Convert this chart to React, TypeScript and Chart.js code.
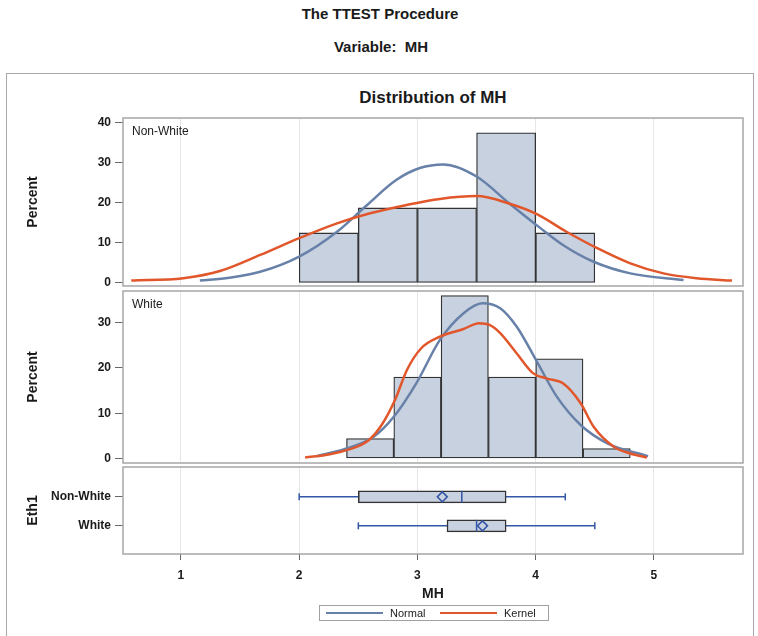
import React, { useEffect, useRef } from 'react';
import { Chart, registerables } from 'chart.js';

Chart.register(...registerables);

// ---------- data ----------
const CATEGORIES = ['Non-White', 'White'];
const X_TICKS = [1, 2, 3, 4, 5];
const X_MIN = 0.51;
const X_MAX = 5.753;
const NW_Y_TICKS = [0, 10, 20, 30, 40];
const W_Y_TICKS = [0, 10, 20, 30];

// histogram bins (mid-points) and percents
const NW_BIN_MID = [2.25, 2.75, 3.25, 3.75, 4.25];
const NW_PERCENT = [12.5, 18.75, 18.75, 37.5, 12.5];
const W_BIN_MID = [2.6, 3.0, 3.4, 3.8, 4.2, 4.6];
const W_PERCENT = [4.4, 18.0, 36.0, 18.0, 22.0, 2.2];

// density curves
const NW_NORMAL_X = [1.16, 1.41, 1.67, 2.0, 2.32, 2.56, 2.82, 3.02, 3.22, 3.5, 3.78, 4.04, 4.23, 4.49, 4.8, 5.25];
const NW_NORMAL_Y = [0.6, 1.3, 2.8, 6.6, 12.8, 19.1, 25.7, 28.7, 29.6, 26.6, 19.8, 13.7, 9.5, 5.3, 2.4, 0.75];
const NW_KERNEL_X = [0.58, 1.02, 1.33, 1.67, 2.0, 2.32, 2.6, 2.91, 3.19, 3.5, 3.78, 4.01, 4.26, 4.52, 4.8, 5.08, 5.36, 5.66];
const NW_KERNEL_Y = [0.6, 1.2, 3.0, 7.0, 11.2, 14.9, 17.4, 19.5, 21.0, 21.7, 19.8, 17.2, 12.8, 8.7, 4.9, 2.4, 1.2, 0.6];
const W_NORMAL_X = [2.15, 2.4, 2.63, 2.8, 2.99, 3.19, 3.39, 3.55, 3.7, 3.84, 4.01, 4.18, 4.38, 4.61, 4.95];
const W_NORMAL_Y = [0.5, 2.2, 4.8, 9.2, 16.6, 26.2, 32.1, 34.3, 33.2, 29.1, 21.4, 13.6, 7.4, 3.3, 0.5];
const W_KERNEL_X = [2.05, 2.26, 2.49, 2.6, 2.7, 2.81, 2.91, 3.03, 3.19, 3.39, 3.52, 3.61, 3.7, 3.84, 3.98, 4.09, 4.23, 4.38, 4.49, 4.66, 4.8, 4.94];
const W_KERNEL_Y = [0.2, 0.95, 2.6, 4.3, 7.5, 12.9, 19.5, 24.3, 26.9, 28.6, 29.9, 29.5, 27.7, 23.2, 18.8, 17.7, 16.6, 12.2, 7.0, 2.6, 1.1, 0.2];

// box plot statistics per category
const BOX_MIN = [2.0, 2.5];
const BOX_Q1 = [2.5, 3.25];
const BOX_MEDIAN = [3.375, 3.5];
const BOX_Q3 = [3.75, 3.75];
const BOX_MAX = [4.25, 4.5];
const BOX_MEAN = [3.21, 3.55];

// ---------- styles ----------
const FONT = '"Liberation Sans", Arial, Helvetica, sans-serif';
const HIST_FILL = '#c8d1e0';
const EDGE = '#333333';
const NORMAL_COLOR = '#6881a9';
const KERNEL_COLOR = '#e1572b';
const BOX_BLUE = '#3456a6';
const FRAME = '#a6a6a6';
const GRID = '#e6e6e6';
const TEXT = '#1a1a1a';

Chart.defaults.font.family = FONT;
Chart.defaults.color = TEXT;

const panelPlugin = {
  id: 'panelFrame',
  afterDraw(chart: any, _args: any, opts: any) {
    const { ctx, chartArea: a } = chart;
    ctx.save();
    ctx.strokeStyle = FRAME;
    ctx.lineWidth = 1.5;
    ctx.strokeRect(a.left, a.top, a.right - a.left, a.bottom - a.top);
    if (opts && opts.label) {
      ctx.fillStyle = TEXT;
      ctx.font = `12px ${FONT}`;
      ctx.textBaseline = 'middle';
      ctx.textAlign = 'left';
      ctx.fillText(opts.label, a.left + 9, a.top + 13.5);
    }
    ctx.restore();
  },
};

const pts = (xs: number[], ys: number[]) => xs.map((x, i) => ({ x, y: ys[i] }));

function xAxis(bottom: boolean) {
  return {
    type: 'linear',
    min: X_MIN,
    max: X_MAX,
    offset: false,
    afterBuildTicks: (s: any) => {
      s.ticks = X_TICKS.map((v) => ({ value: v }));
    },
    afterFit: (s: any) => {
      s.height = bottom ? 50 : 0;
      s.paddingLeft = 0;
      s.paddingRight = 0;
    },
    grid: {
      color: GRID,
      lineWidth: 1,
      offset: false,
      drawTicks: bottom,
      tickLength: 6,
      tickColor: '#666666',
    },
    border: { display: false },
    ticks: {
      display: bottom,
      font: { size: 12, weight: 'bold' },
      color: TEXT,
      padding: 8,
    },
    title: {
      display: bottom,
      text: 'MH',
      font: { size: 14, weight: 'bold' },
      color: TEXT,
      padding: { top: 0, bottom: 1 },
    },
  };
}

function yAxis(min: number, max: number, ticks: number[], title: string, reverse = false, cb?: (v: any) => string) {
  return {
    type: 'linear',
    min,
    max,
    reverse,
    offset: false,
    afterBuildTicks: (s: any) => {
      s.ticks = ticks.map((v) => ({ value: v }));
    },
    afterFit: (s: any) => {
      s.width = 103;
      s.paddingTop = 0;
      s.paddingBottom = 0;
    },
    grid: {
      offset: false,
      drawOnChartArea: false,
      drawTicks: true,
      tickLength: 8,
      tickColor: '#666666',
      tickWidth: 1,
    },
    border: { display: false },
    ticks: {
      font: { size: 12, weight: 'bold' },
      color: TEXT,
      padding: 4,
      ...(cb ? { callback: cb } : {}),
    },
    title: {
      display: true,
      text: title,
      font: { size: 14, weight: 'bold' },
      color: TEXT,
      padding: { top: 5, bottom: 0 },
    },
  };
}

function histConfig(label: string, mids: number[], pcts: number[], nx: number[], ny: number[], kx: number[], ky: number[], yMin: number, yMax: number, yTicks: number[], padTop: number, padBottom: number) {
  return {
    type: 'scatter',
    data: {
      datasets: [
        {
          type: 'bar',
          label: 'Histogram',
          data: pts(mids, pcts),
          backgroundColor: HIST_FILL,
          borderColor: EDGE,
          borderWidth: 1.3,
          borderSkipped: false,
          barPercentage: 1,
          categoryPercentage: 1,
          order: 3,
        },
        {
          type: 'line',
          label: 'Normal',
          data: pts(nx, ny),
          borderColor: NORMAL_COLOR,
          borderWidth: 2.5,
          pointRadius: 0,
          fill: false,
          cubicInterpolationMode: 'monotone',
          order: 2,
        },
        {
          type: 'line',
          label: 'Kernel',
          data: pts(kx, ky),
          borderColor: KERNEL_COLOR,
          borderWidth: 2.5,
          pointRadius: 0,
          fill: false,
          cubicInterpolationMode: 'monotone',
          order: 1,
        },
      ],
    },
    options: {
      responsive: false,
      animation: false,
      layout: { padding: { left: 20, right: 15, top: padTop, bottom: padBottom } },
      scales: {
        x: xAxis(false),
        y: yAxis(yMin, yMax, yTicks, 'Percent'),
      },
      plugins: {
        legend: { display: false },
        tooltip: { enabled: false },
        panelFrame: { label },
      },
    },
    plugins: [panelPlugin],
  };
}

function boxConfig() {
  const rows = CATEGORIES.map((_, i) => i + 1);
  const datasets: any[] = [];
  CATEGORIES.forEach((_, i) => {
    datasets.push({
      type: 'line',
      label: 'whisker',
      data: [
        { x: BOX_MIN[i], y: rows[i] },
        { x: BOX_MAX[i], y: rows[i] },
      ],
      borderColor: BOX_BLUE,
      borderWidth: 1.5,
      pointStyle: 'line',
      pointRotation: 90,
      pointRadius: 3.5,
      pointBorderColor: BOX_BLUE,
      pointBorderWidth: 1.5,
      fill: false,
      order: 4,
    });
  });
  datasets.push({
    type: 'bar',
    label: 'box',
    indexAxis: 'y',
    data: CATEGORIES.map((_, i) => ({ y: rows[i], x: [BOX_Q1[i], BOX_Q3[i]] })),
    backgroundColor: HIST_FILL,
    borderColor: EDGE,
    borderWidth: 1.5,
    borderSkipped: false,
    barThickness: 12,
    order: 3,
  });
  datasets.push({
    type: 'scatter',
    label: 'median',
    data: CATEGORIES.map((_, i) => ({ x: BOX_MEDIAN[i], y: rows[i] })),
    showLine: false,
    pointStyle: 'line',
    pointRotation: 90,
    pointRadius: 6,
    pointBorderColor: BOX_BLUE,
    pointBorderWidth: 1.5,
    order: 2,
  });
  datasets.push({
    type: 'scatter',
    label: 'mean',
    data: CATEGORIES.map((_, i) => ({ x: BOX_MEAN[i], y: rows[i] })),
    showLine: false,
    pointStyle: 'rectRot',
    pointRadius: 5,
    pointBackgroundColor: 'rgba(0,0,0,0)',
    pointBorderColor: BOX_BLUE,
    pointBorderWidth: 1.5,
    order: 1,
  });
  return {
    type: 'scatter',
    data: { datasets },
    options: {
      responsive: false,
      animation: false,
      layout: { padding: { left: 20, right: 15, top: 12, bottom: 32 } },
      scales: {
        x: xAxis(true),
        y: yAxis(-0.03, 2.97, rows, 'Eth1', true, (v: any) => CATEGORIES[Number(v) - 1] ?? ''),
      },
      plugins: {
        legend: { display: false },
        tooltip: { enabled: false },
        panelFrame: { label: '' },
      },
    },
    plugins: [panelPlugin],
  };
}

export default function App() {
  const c1 = useRef<HTMLCanvasElement>(null);
  const c2 = useRef<HTMLCanvasElement>(null);
  const c3 = useRef<HTMLCanvasElement>(null);

  useEffect(() => {
    const charts = [
      new Chart(c1.current as any, histConfig('Non-White', NW_BIN_MID, NW_PERCENT, NW_NORMAL_X, NW_NORMAL_Y, NW_KERNEL_X, NW_KERNEL_Y, -0.75, 41.2, NW_Y_TICKS, 22, 10) as any),
      new Chart(c2.current as any, histConfig('White', W_BIN_MID, W_PERCENT, W_NORMAL_X, W_NORMAL_Y, W_KERNEL_X, W_KERNEL_Y, -1.0, 37.0, W_Y_TICKS, 16, 12) as any),
      new Chart(c3.current as any, boxConfig() as any),
    ];
    return () => charts.forEach((c) => c.destroy());
  }, []);

  const abs = (left: number, top: number, extra: any = {}) => ({ position: 'absolute' as const, left, top, ...extra });

  return (
    <div style={{ position: 'absolute', left: 0, top: 0, width: 758, height: 636, overflow: 'hidden', background: '#fff', fontFamily: FONT, color: TEXT }}>
      <div style={abs(0, 5, { width: 760, textAlign: 'center', fontWeight: 'bold', fontSize: 15, lineHeight: '18px' })}>The TTEST Procedure</div>
      <div style={abs(0, 38, { width: 762, textAlign: 'center', fontWeight: 'bold', fontSize: 15, lineHeight: '18px', whiteSpace: 'pre' })}>Variable:  MH</div>
      <div style={abs(6, 73, { width: 748, height: 620, border: '1px solid #a8a8a8', boxSizing: 'border-box' })} />
      <div style={abs(123, 88, { width: 620, textAlign: 'center', fontWeight: 'bold', fontSize: 17, lineHeight: '20px' })}>Distribution of MH</div>
      <canvas ref={c1} width={758} height={200} style={abs(0, 96)} />
      <canvas ref={c2} width={758} height={200} style={abs(0, 275)} />
      <canvas ref={c3} width={758} height={181} style={abs(0, 455)} />
      <div style={abs(319, 605, { width: 230, height: 16, border: '1px solid #a0a0a0', boxSizing: 'border-box', fontSize: 11, lineHeight: '14px' })}>
        <div style={abs(6, 5.5, { width: 57, height: 2.5, background: NORMAL_COLOR })} />
        <div style={abs(70, 0)}>Normal</div>
        <div style={abs(120, 5.5, { width: 57, height: 2.5, background: KERNEL_COLOR })} />
        <div style={abs(184, 0)}>Kernel</div>
      </div>
    </div>
  );
}
